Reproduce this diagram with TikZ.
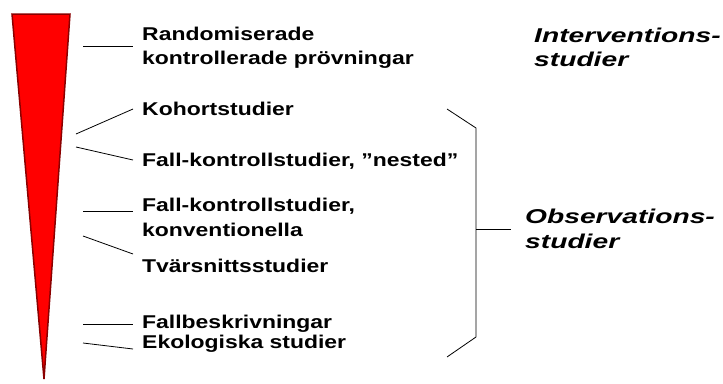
\documentclass[tikz,border=0pt]{standalone}
\usepackage{fontspec}
\usepackage{graphicx}
\setmainfont{Liberation Sans}
\definecolor{wedgefill}{HTML}{FF0000}
\definecolor{wedgeedge}{HTML}{8B0000}
\newcommand{\wideL}[1]{\scalebox{1.24}[1]{#1}}
\newcommand{\wideR}[1]{\scalebox{1.41}[1]{#1}}
\tikzset{
  lbl/.style={anchor=base west, inner sep=0pt, font=\fontsize{18.5}{22}\selectfont\bfseries},
  grp/.style={anchor=base west, inner sep=0pt, font=\fontsize{20}{24}\selectfont\bfseries\itshape},
  link/.style={draw=black, line width=0.8pt},
}
\begin{document}
\begin{tikzpicture}[x=1pt,y=-1pt]
\useasboundingbox (0,0) rectangle (723,383);

% evidence wedge
\draw[fill=wedgefill, draw=wedgeedge, line width=1.5pt, line join=miter]
  (12,14) -- (70,14) -- (44,379) -- cycle;

% study design labels
\node[lbl] (rct1) at (142,40)  {\wideL{Randomiserade}};
\node[lbl] (rct2) at (142,64)  {\wideL{kontrollerade prövningar}};
\node[lbl] (coh)  at (142,115) {\wideL{Kohortstudier}};
\node[lbl] (ccn)  at (142,166) {\wideL{Fall-kontrollstudier, ”nested”}};
\node[lbl] (ccc1) at (142,211) {\wideL{Fall-kontrollstudier,}};
\node[lbl] (ccc2) at (142,236) {\wideL{konventionella}};
\node[lbl] (cross) at (142,272) {\wideL{Tvärsnittsstudier}};
\node[lbl] (case) at (142,328) {\wideL{Fallbeskrivningar}};
\node[lbl] (eco)  at (142,348) {\wideL{Ekologiska studier}};

% group labels
\node[grp] (int1) at (534,42)  {\wideR{Interventions-}};
\node[grp] (int2) at (534,66)  {\wideR{studier}};
\node[grp] (obs1) at (525,223) {\wideR{Observations-}};
\node[grp] (obs2) at (525,248) {\wideR{studier}};

% pointer ends near the wedge and the labels
\coordinate (p1a) at (83,46);  \coordinate (p1b) at (133,46);
\coordinate (p2a) at (76,134); \coordinate (p2b) at (133,109);
\coordinate (p3a) at (76,147); \coordinate (p3b) at (133,160);
\coordinate (p4a) at (83,211); \coordinate (p4b) at (133,211);
\coordinate (p5a) at (83,236); \coordinate (p5b) at (133,254);
\coordinate (p6a) at (83,324); \coordinate (p6b) at (133,324);
\coordinate (p7a) at (83,343); \coordinate (p7b) at (133,349);

\draw[link] (p1a) -- (p1b);
\draw[link] (p2a) -- (p2b);
\draw[link] (p3a) -- (p3b);
\draw[link] (p4a) -- (p4b);
\draw[link] (p5a) -- (p5b);
\draw[link] (p6a) -- (p6b);
\draw[link] (p7a) -- (p7b);

% brace grouping the observational designs
\coordinate (bt) at (447,109);
\coordinate (bu) at (476,128);
\coordinate (bl) at (476,337);
\coordinate (bb) at (447,357);
\coordinate (bm) at (476,229);
\coordinate (bo) at (511,229);
\draw[link] (bt) -- (bu) -- (bl) -- (bb);
\draw[link] (bm) -- (bo);
\end{tikzpicture}
\end{document}
